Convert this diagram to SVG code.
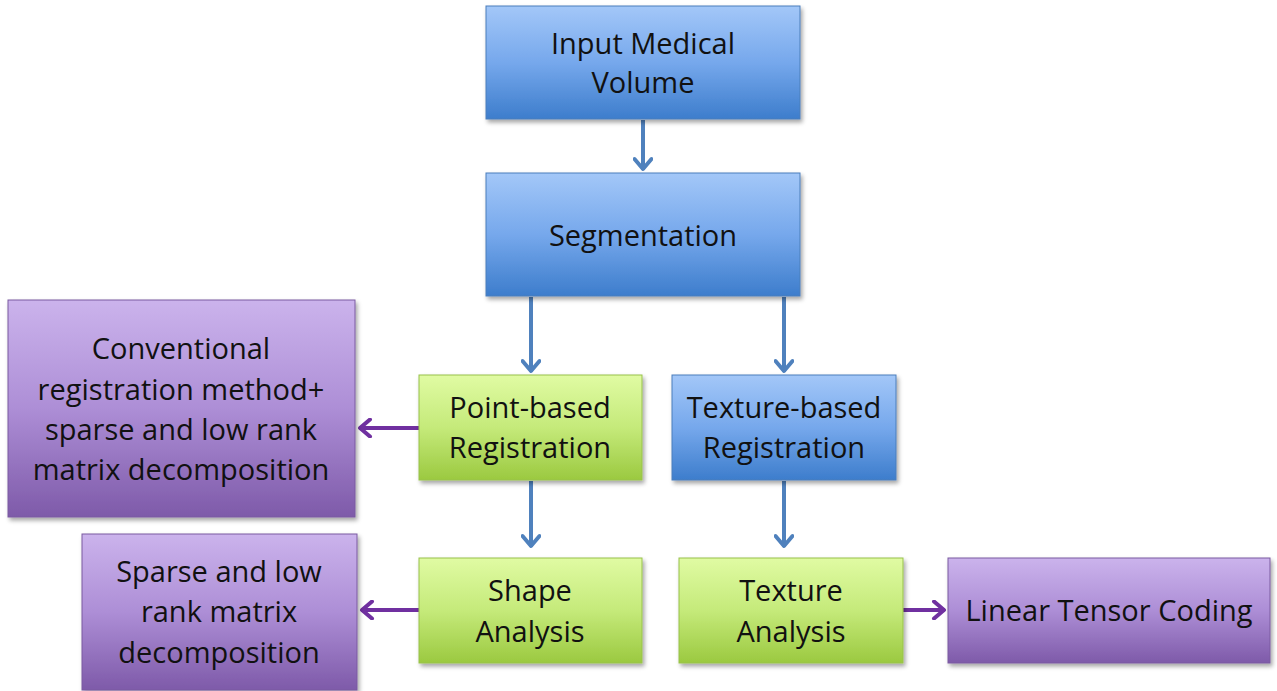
<svg xmlns="http://www.w3.org/2000/svg" width="1277" height="691" viewBox="0 0 1277 691">
<defs>
<linearGradient id="gb" x1="0" y1="0" x2="0" y2="1"><stop offset="0" stop-color="#a3c7f8"/><stop offset="0.5" stop-color="#76a8ec"/><stop offset="1" stop-color="#3d7dcc"/></linearGradient>
<linearGradient id="gg" x1="0" y1="0" x2="0" y2="1"><stop offset="0" stop-color="#e0fba3"/><stop offset="0.5" stop-color="#c5ea7a"/><stop offset="1" stop-color="#9bc940"/></linearGradient>
<linearGradient id="gp" x1="0" y1="0" x2="0" y2="1"><stop offset="0" stop-color="#cbb3ec"/><stop offset="0.5" stop-color="#ad8ed6"/><stop offset="1" stop-color="#7e5aa9"/></linearGradient>
<filter id="sh" x="-5%" y="-5%" width="115%" height="120%"><feDropShadow dx="2" dy="3" stdDeviation="2" flood-color="#000" flood-opacity="0.35"/></filter>
<marker id="ab" viewBox="0 0 20 20" refX="17" refY="10" markerWidth="20" markerHeight="20" markerUnits="userSpaceOnUse" orient="auto"><path d="M6,1.5 L16,10 L6,18.5" fill="none" stroke="#4f81bd" stroke-width="4" stroke-linecap="round" stroke-linejoin="round"/></marker>
<marker id="ap" viewBox="0 0 20 20" refX="17" refY="10" markerWidth="20" markerHeight="20" markerUnits="userSpaceOnUse" orient="auto"><path d="M6,1.5 L16,10 L6,18.5" fill="none" stroke="#7030a0" stroke-width="4" stroke-linecap="round" stroke-linejoin="round"/></marker>
</defs>
<style>
.b{fill:url(#gb);stroke:#4a7ebb;stroke-width:1;filter:url(#sh)}
.g{fill:url(#gg);stroke:#98c24a;stroke-width:1;filter:url(#sh)}
.p{fill:url(#gp);stroke:#7a5aa0;stroke-width:1;filter:url(#sh)}
text{font-family:"Open Sans","Liberation Sans",sans-serif;font-size:29px;fill:#111;text-anchor:middle}
.cb{stroke:#4f81bd;stroke-width:4;fill:none;marker-end:url(#ab)}
.cp{stroke:#7030a0;stroke-width:4;fill:none;marker-end:url(#ap)}
</style>
<rect width="1277" height="691" fill="#fff"/>
<g id="connectors">
<line class="cb" x1="643" y1="120" x2="643" y2="170"/>
<line class="cb" x1="531" y1="297" x2="531" y2="372"/>
<line class="cb" x1="784" y1="297" x2="784" y2="372"/>
<line class="cb" x1="531" y1="481" x2="531" y2="547"/>
<line class="cb" x1="784" y1="481" x2="784" y2="547"/>
<line class="cp" x1="419" y1="428" x2="359" y2="428"/>
<line class="cp" x1="419" y1="610" x2="361" y2="610"/>
<line class="cp" x1="903" y1="610" x2="945" y2="610"/>
</g>
<g id="input"><rect class="b" x="486" y="6" width="314" height="113"/><text x="643" y="54">Input Medical</text><text x="643" y="93">Volume</text></g>
<g id="segmentation"><rect class="b" x="486" y="173" width="314" height="123"/><text x="643" y="246">Segmentation</text></g>
<g id="pointreg"><rect class="g" x="419" y="375" width="223" height="105"/><text x="530" y="418">Point-based</text><text x="530" y="458">Registration</text></g>
<g id="texreg"><rect class="b" x="672" y="375" width="224" height="105"/><text x="784" y="418">Texture-based</text><text x="784" y="458">Registration</text></g>
<g id="conventional"><rect class="p" x="8" y="300" width="347" height="217"/><text x="181" y="359">Conventional</text><text x="181" y="400">registration method+</text><text x="181" y="440">sparse and low rank</text><text x="181" y="480">matrix decomposition</text></g>
<g id="sparse"><rect class="p" x="82" y="534" width="275" height="156"/><text x="219" y="582">Sparse and low</text><text x="219" y="622">rank matrix</text><text x="219" y="663">decomposition</text></g>
<g id="shape"><rect class="g" x="419" y="558" width="223" height="105"/><text x="530" y="601">Shape</text><text x="530" y="642">Analysis</text></g>
<g id="texana"><rect class="g" x="679" y="558" width="224" height="105"/><text x="791" y="601">Texture</text><text x="791" y="642">Analysis</text></g>
<g id="linear"><rect class="p" x="948" y="558" width="322" height="105"/><text x="1109" y="621">Linear Tensor Coding</text></g>
</svg>
